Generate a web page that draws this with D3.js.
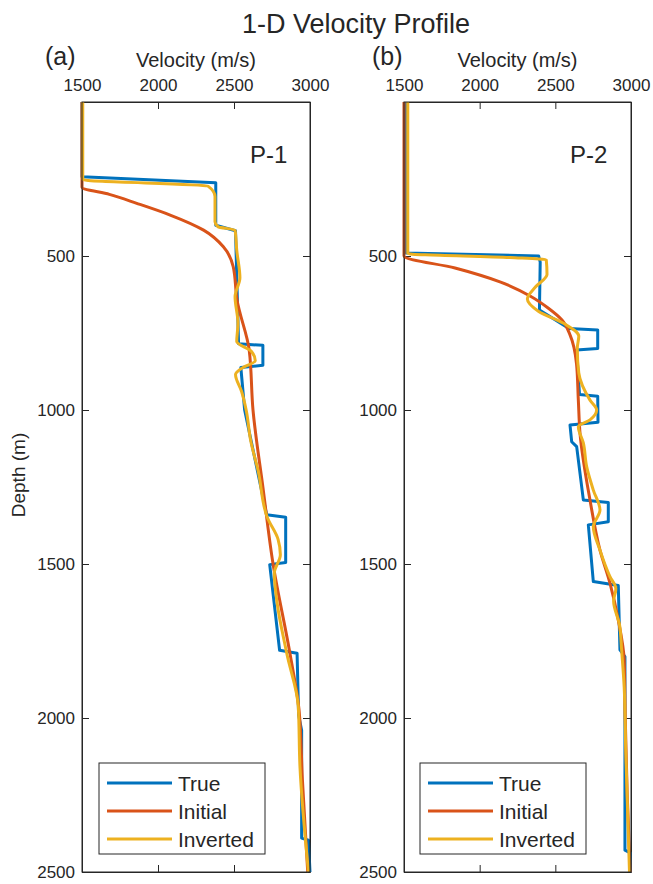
<!DOCTYPE html>
<html>
<head>
<meta charset="utf-8">
<script src="https://cdnjs.cloudflare.com/ajax/libs/d3/7.8.5/d3.min.js"></script>
<style>
  body { margin: 0; background: #fff; }
  text { font-family: "Liberation Sans", Arial, sans-serif; fill: #262626; }
</style>
</head>
<body>
<div id="chart"></div>
<script>
// velocity profiles: [depth (m), velocity (m/s)]
var p1True = [[0,1500],[243,1500],[262,2380],[400,2380],[418,2510],[600,2520],[785,2530],[790,2690],
  [855,2690],[862,2545],[1000,2570],[1340,2715],[1348,2840],[1495,2840],[1502,2735],[1780,2800],
  [1790,2915],[1990,2925],[2040,2945],[2390,2945],[2397,2990],[2500,3000]];
var p1Initial = [[0,1500],[277,1500],[300,1680],[329,1860],[367,2080],[416,2300],[470,2430],[535,2495],
  [643,2520],[805,2600],[1000,2625],[1250,2690],[1500,2757],[1790,2868],[1974,2928],[2200,2950],[2500,2985]];
var p1Inverted = [[0,1505],[252,1505],[273,2329],[307,2375],[389,2375],[405,2395],[416,2507],[481,2518],
  [571,2539],[632,2507],[718,2526],[778,2518],[810,2615],[840,2640],[862,2560],[885,2510],[940,2550],
  [1000,2580],[1100,2610],[1200,2660],[1350,2720],[1420,2790],[1470,2805],[1530,2765],[1617,2781],
  [1790,2847],[1963,2923],[2158,2934],[2500,2990]];

var p2True = [[0,1510],[490,1510],[500,2390],[520,2400],[675,2395],[735,2590],[740,2780],[800,2780],
  [805,2640],[950,2660],[955,2780],[1040,2782],[1049,2597],[1103,2608],[1119,2641],[1292,2685],
  [1300,2850],[1363,2850],[1373,2718],[1557,2751],[1570,2916],[1779,2927],[1801,2960],[2429,2960],
  [2438,2995],[2500,2995]];
var p2Initial = [[0,1500],[500,1500],[539,1837],[584,2134],[630,2333],[669,2452],[708,2544],[756,2597],
  [850,2640],[968,2652],[1075,2663],[1292,2729],[1455,2795],[1562,2861],[1682,2916],[1812,2955],
  [2000,2962],[2250,2975],[2500,2995]];
var p2Inverted = [[0,1525],[492,1525],[505,2200],[512,2440],[560,2445],[600,2370],[640,2315],[680,2390],
  [720,2560],[760,2655],[800,2645],[880,2655],[968,2729],[1000,2773],[1032,2729],[1054,2652],
  [1107,2685],[1184,2707],[1260,2751],[1325,2795],[1379,2751],[1455,2795],[1541,2861],[1580,2900],
  [1620,2885],[1700,2925],[1779,2938],[1900,2955],[2100,2965],[2500,2990]];

var seriesNames = ["True", "Initial", "Inverted"];
var seriesColors = ["#0072BD", "#D95319", "#EDB120"];
var velTicks = [1500, 2000, 2500, 3000];
var depthTicks = [500, 1000, 1500, 2000, 2500];

// svg size
var svgWidth = 653;
var svgHeight = 884;
var plotTop = 102;
var plotBottom = 872;

var svg = d3.select("#chart").append("svg")
    .attr("width", svgWidth)
    .attr("height", svgHeight);

// title
svg.append("text")
    .attr("x", 356)
    .attr("y", 33)
    .attr("text-anchor", "middle")
    .attr("font-size", "27px")
    .text("1-D Velocity Profile");

var panels = [
    {left: 82, right: 310, tag: "(a)", tagX: 45, name: "P-1", nameX: 250, legendX: 99,
     data: [p1True, p1Initial, p1Inverted], yLabel: true},
    {left: 404, right: 631, tag: "(b)", tagX: 372, name: "P-2", nameX: 570, legendX: 420,
     data: [p2True, p2Initial, p2Inverted], yLabel: false}
];

var y = d3.scaleLinear().domain([0, 2500]).range([plotTop, plotBottom]);
var fmt = d3.format("d");

panels.forEach(function(p) {
    var x = d3.scaleLinear().domain([1500, 3000]).range([p.left, p.right]);
    var g = svg.append("g");

    // axes: ticks pointing inwards, labels only on top and left
    g.append("g")
        .attr("transform", `translate(0, ${plotTop})`)
        .call(d3.axisTop(x).tickValues(velTicks).tickFormat(fmt)
            .tickSizeInner(-7).tickSizeOuter(0).tickPadding(11));
    g.append("g")
        .attr("transform", `translate(0, ${plotBottom})`)
        .call(d3.axisBottom(x).tickValues(velTicks).tickSizeInner(-7).tickSizeOuter(0).tickFormat(""));
    g.append("g")
        .attr("transform", `translate(${p.left}, 0)`)
        .call(d3.axisLeft(y).tickValues(depthTicks).tickFormat(fmt)
            .tickSizeInner(-7).tickSizeOuter(0).tickPadding(7));
    g.append("g")
        .attr("transform", `translate(${p.right}, 0)`)
        .call(d3.axisRight(y).tickValues(depthTicks).tickSizeInner(-7).tickSizeOuter(0).tickFormat(""));

    g.selectAll(".domain").attr("stroke", "#262626");
    g.selectAll(".tick line").attr("stroke", "#262626");
    g.selectAll(".tick text")
        .attr("font-size", "17px")
        .attr("fill", "#262626")
        .attr("font-family", "Liberation Sans, Arial, sans-serif");

    // velocity curves
    p.data.forEach(function(series, i) {
        var line = d3.line()
            .x(d => x(d[1]))
            .y(d => y(d[0]))
            .curve(i === 0 ? d3.curveLinear : d3.curveMonotoneY);
        g.append("path")
            .datum(series)
            .attr("fill", "none")
            .attr("stroke", seriesColors[i])
            .attr("stroke-width", 3)
            .attr("stroke-linejoin", "round")
            .attr("d", line);
    });

    // frame on top of the lines
    g.append("rect")
        .attr("x", p.left)
        .attr("y", plotTop)
        .attr("width", p.right - p.left)
        .attr("height", plotBottom - plotTop)
        .attr("fill", "none")
        .attr("stroke", "#262626")
        .attr("stroke-width", 1);

    // labels
    g.append("text")
        .attr("x", p.tagX)
        .attr("y", 65)
        .attr("font-size", "25px")
        .attr("fill", "#000")
        .text(p.tag);
    g.append("text")
        .attr("x", (p.left + p.right) / 2)
        .attr("y", 67)
        .attr("text-anchor", "middle")
        .attr("font-size", "20px")
        .text("Velocity (m/s)");
    g.append("text")
        .attr("x", p.nameX)
        .attr("y", 163)
        .attr("font-size", "24px")
        .attr("fill", "#000")
        .text(p.name);

    if (p.yLabel) {
        g.append("text")
            .attr("transform", "translate(25, 475) rotate(-90)")
            .attr("text-anchor", "middle")
            .attr("font-size", "19px")
            .text("Depth (m)");
    }

    // legend
    var lg = g.append("g").attr("transform", `translate(${p.legendX}, 763)`);
    lg.append("rect")
        .attr("width", 166)
        .attr("height", 91)
        .attr("fill", "#fff")
        .attr("stroke", "#262626")
        .attr("stroke-width", 1);
    seriesNames.forEach(function(name, i) {
        var cy = 20 + i * 28;
        lg.append("line")
            .attr("x1", 8).attr("x2", 73)
            .attr("y1", cy).attr("y2", cy)
            .attr("stroke", seriesColors[i])
            .attr("stroke-width", 3);
        lg.append("text")
            .attr("x", 79)
            .attr("y", cy)
            .attr("dy", "0.36em")
            .attr("font-size", "21px")
            .attr("fill", "#000")
            .text(name);
    });
});
</script>
</body>
</html>
